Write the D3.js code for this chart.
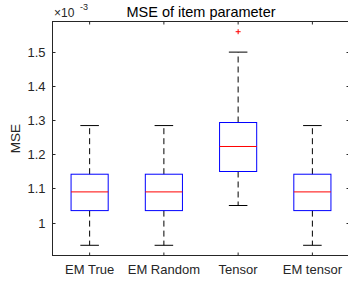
<!DOCTYPE html>
<html>
<head>
<meta charset="utf-8">
<script src="https://cdn.jsdelivr.net/npm/d3@7"></script>
<style>
  body { margin: 0; background: #fff; }
  text { font-family: "Liberation Sans", Arial, sans-serif; fill: #262626; }
</style>
</head>
<body>
<div id="chart"></div>
<script>
// Box plot data (values in units of 1e-3)
const categories = ["EM True", "EM Random", "Tensor", "EM tensor"];
const whiskerLow = [0.933, 0.933, 1.050, 0.933];
const q1 = [1.035, 1.035, 1.150, 1.035];
const medians = [1.090, 1.090, 1.2235, 1.090];
const q3 = [1.142, 1.142, 1.294, 1.142];
const whiskerHigh = [1.285, 1.285, 1.501, 1.285];
const outliers = [[], [], [1.561], []];
const yTicks = [1, 1.1, 1.2, 1.3, 1.4, 1.5];

const W = 348, H = 284;
const mLeft = 52.5, mRight = 349.5, mTop = 21.5, mBottom = 255.5;

const svg = d3.select("#chart").append("svg")
    .attr("width", W)
    .attr("height", H);

const x = d3.scalePoint()
    .domain(categories)
    .range([mLeft, mRight])
    .padding(0.5);

const y = d3.scaleLinear()
    .domain([0.903, 1.591])
    .range([mBottom, mTop]);

const step = x.step();
const boxW = step * 0.5, capW = step * 0.25;

const rows = categories.map((c, i) => ({
    name: c, lo: whiskerLow[i], q1: q1[i], med: medians[i], q3: q3[i], hi: whiskerHigh[i], out: outliers[i]
}));

// axes frame
const axisColor = "#262626";
svg.append("rect")
    .attr("x", mLeft).attr("y", mTop)
    .attr("width", mRight - mLeft).attr("height", mBottom - mTop)
    .attr("fill", "none").attr("stroke", axisColor).attr("stroke-width", 1);

// y ticks (inward, both sides)
const yg = svg.append("g");
yTicks.forEach(t => {
    const yy = Math.round(y(t)) + 0.5;
    yg.append("line").attr("x1", mLeft).attr("x2", mLeft + 3).attr("y1", yy).attr("y2", yy).attr("stroke", axisColor);
    yg.append("line").attr("x1", mRight).attr("x2", mRight - 3).attr("y1", yy).attr("y2", yy).attr("stroke", axisColor);
    yg.append("text").attr("x", mLeft - 7).attr("y", yy).attr("dy", "0.35em")
        .attr("text-anchor", "end").attr("font-size", 13).text(t);
});

// x ticks (inward, top and bottom)
const xg = svg.append("g");
categories.forEach(c => {
    const xx = x(c);
    xg.append("line").attr("x1", xx).attr("x2", xx).attr("y1", mBottom).attr("y2", mBottom - 3).attr("stroke", axisColor);
    xg.append("line").attr("x1", xx).attr("x2", xx).attr("y1", mTop).attr("y2", mTop + 3).attr("stroke", axisColor);
    xg.append("text").attr("x", xx).attr("y", 274)
        .attr("text-anchor", "middle").attr("font-size", 13).text(c);
});

// exponent label
svg.append("text").attr("x", 54).attr("y", 17).attr("font-size", 12).text("\u00d710");
svg.append("text").attr("x", 80).attr("y", 10).attr("font-size", 9).text("-3");

// title and y label
svg.append("text").attr("x", (mLeft + mRight) / 2).attr("y", 17)
    .attr("text-anchor", "middle").attr("font-size", 14.5)
    .style("fill", "#000").text("MSE of item parameter");
svg.append("text")
    .attr("transform", `translate(20,${(mTop + mBottom) / 2}) rotate(-90)`)
    .attr("text-anchor", "middle").attr("font-size", 13.5).text("MSE");

// boxes
const g = svg.selectAll("g.box").data(rows).enter().append("g").attr("class", "box");

// whiskers
g.append("line")
    .attr("x1", d => x(d.name)).attr("x2", d => x(d.name))
    .attr("y1", d => y(d.q3)).attr("y2", d => y(d.hi))
    .attr("stroke", "#000").attr("stroke-dasharray", "6,4");
g.append("line")
    .attr("x1", d => x(d.name)).attr("x2", d => x(d.name))
    .attr("y1", d => y(d.q1)).attr("y2", d => y(d.lo))
    .attr("stroke", "#000").attr("stroke-dasharray", "6,4");

// caps
g.append("line")
    .attr("x1", d => x(d.name) - capW / 2).attr("x2", d => x(d.name) + capW / 2)
    .attr("y1", d => y(d.hi)).attr("y2", d => y(d.hi))
    .attr("stroke", "#000");
g.append("line")
    .attr("x1", d => x(d.name) - capW / 2).attr("x2", d => x(d.name) + capW / 2)
    .attr("y1", d => y(d.lo)).attr("y2", d => y(d.lo))
    .attr("stroke", "#000");

// box
g.append("rect")
    .attr("x", d => x(d.name) - boxW / 2)
    .attr("y", d => y(d.q3))
    .attr("width", boxW)
    .attr("height", d => y(d.q1) - y(d.q3))
    .attr("fill", "none").attr("stroke", "#0000ff").attr("stroke-width", 1);

// median
g.append("line")
    .attr("x1", d => x(d.name) - boxW / 2).attr("x2", d => x(d.name) + boxW / 2)
    .attr("y1", d => y(d.med)).attr("y2", d => y(d.med))
    .attr("stroke", "#ff0000");

// outliers
g.selectAll("path.out").data(d => d.out.map(v => ({ name: d.name, v })))
    .enter().append("path")
    .attr("class", "out")
    .attr("d", d => {
        const cx = x(d.name), cy = y(d.v), r = 2.5;
        return `M${cx - r},${cy}H${cx + r}M${cx},${cy - r}V${cy + r}`;
    })
    .attr("stroke", "#ff0000").attr("fill", "none");
</script>
</body>
</html>
